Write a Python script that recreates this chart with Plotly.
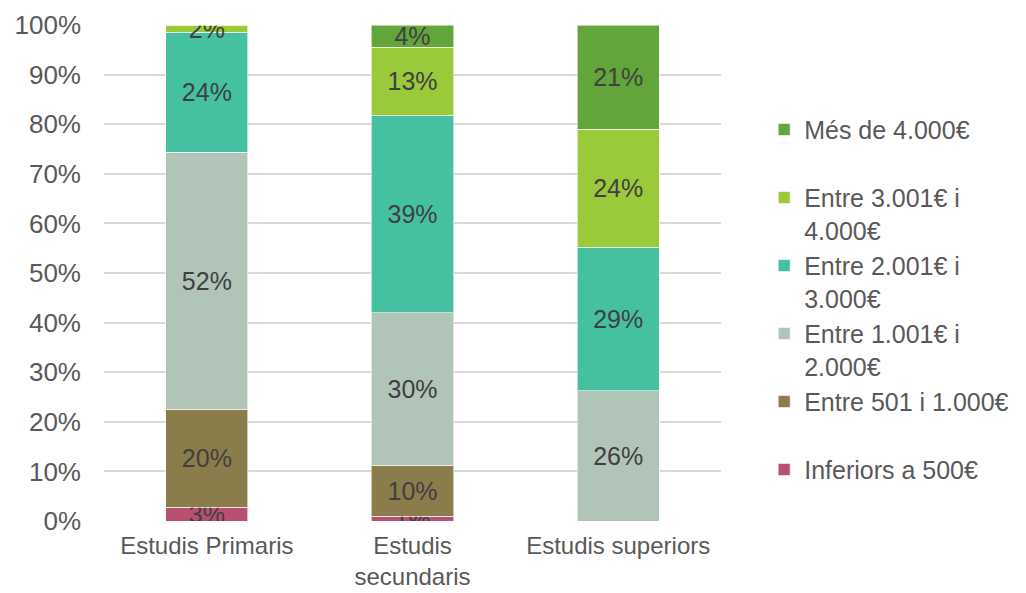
import plotly.graph_objects as go

categories = ["Estudis Primaris", "Estudis<br>secundaris", "Estudis superiors"]

series_names = [
    "Inferiors a 500€<br> ",
    "Entre 501 i 1.000€<br> ",
    "Entre 1.001€ i<br>2.000€",
    "Entre 2.001€ i<br>3.000€",
    "Entre 3.001€ i<br>4.000€",
    "Més de 4.000€<br> ",
]

inferiors_500 = [2.8, 1.0, 0]
entre_501_1000 = [19.7, 10.2, 0]
entre_1001_2000 = [51.8, 30.8, 26.3]
entre_2001_3000 = [24.2, 39.8, 28.9]
entre_3001_4000 = [1.5, 13.7, 23.8]
mes_4000 = [0, 4.5, 21.0]

# data labels as printed on the chart
labels_inferiors_500 = ["3%", "1%", ""]
labels_501_1000 = ["20%", "10%", ""]
labels_1001_2000 = ["52%", "30%", "26%"]
labels_2001_3000 = ["24%", "39%", "29%"]
labels_3001_4000 = ["2%", "13%", "24%"]
labels_mes_4000 = ["", "4%", "21%"]

y_ticks = [0, 10, 20, 30, 40, 50, 60, 70, 80, 90, 100]
y_ticklabels = [f"{t}%" for t in y_ticks]

colors = ["#B9506F", "#8B7D4B", "#B0C4B8", "#45C1A2", "#9ACA3A", "#62A53A"]

values = [inferiors_500, entre_501_1000, entre_1001_2000,
          entre_2001_3000, entre_3001_4000, mes_4000]
texts = [labels_inferiors_500, labels_501_1000, labels_1001_2000,
         labels_2001_3000, labels_3001_4000, labels_mes_4000]

fig = go.Figure()
for name, vals, txt, col in zip(series_names, values, texts, colors):
    fig.add_trace(go.Bar(
        x=categories, y=vals, name=name,
        text=txt, texttemplate="%{text}",
        textposition="inside", insidetextanchor="middle",
        textangle=0, constraintext="none",
        textfont=dict(family="Liberation Sans, Arial", size=25, color="#404040"),
        marker=dict(color=col, line=dict(color="rgba(255,255,255,0.6)", width=1)),
        hoverinfo="name+y",
    ))

# the page adds an 8px body margin, so margins are shifted by 8px
fig.update_layout(
    barmode="stack",
    bargap=0.6,
    width=1026, height=593,
    margin=dict(l=96, r=313, t=17, b=80, autoexpand=False),
    paper_bgcolor="white", plot_bgcolor="white",
    font=dict(family="Liberation Sans, Arial", size=25, color="#595959"),
    uniformtext=dict(mode=False),
    legend=dict(
        x=1.07, xanchor="left", y=0.835, yanchor="top",
        traceorder="reversed", valign="top",
        font=dict(size=25, color="#595959"),
        itemwidth=30, tracegroupgap=0,
    ),
    showlegend=True,
)
fig.update_yaxes(
    range=[0, 100], tickvals=y_ticks, ticktext=y_ticklabels,
    tickfont=dict(size=26),
    showgrid=True, gridcolor="#d9d9d9", gridwidth=1.5,
    zeroline=False, showline=False, ticks="", ticklen=0,
    automargin=False, ticklabelstandoff=22,
)
fig.update_xaxes(showline=False, ticks="", showgrid=False,
                 tickfont=dict(size=24), automargin=False,
                 ticklabelstandoff=8)

fig.write_html("out.html")
